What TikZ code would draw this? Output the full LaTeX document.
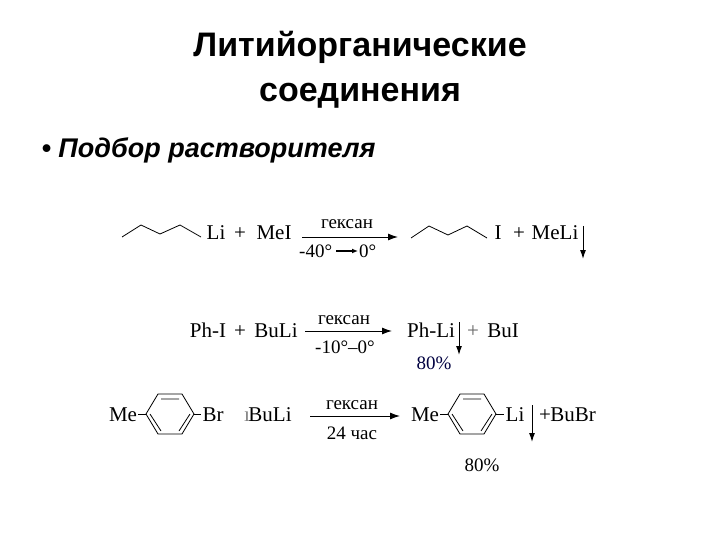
\documentclass[tikz,border=0pt]{standalone}
\usepackage{fontspec}
\setmainfont{Liberation Serif}
\newfontfamily\hd{Liberation Sans}
\usetikzlibrary{arrows.meta}
\begin{document}
\begin{tikzpicture}[x=1pt,y=-1pt,
  ttl/.style={font=\hd\bfseries\fontsize{34}{40}\selectfont},
  ch/.style={font=\fontsize{21}{24}\selectfont,inner sep=0pt,anchor=base},
  sm/.style={font=\fontsize{19}{22}\selectfont,inner sep=0pt,anchor=base},
  bond/.style={line width=0.8pt},
  rx/.style={line width=1pt,-{Latex[length=10pt,width=7pt]}},
  dn/.style={line width=1pt,-{Latex[length=9pt,width=6pt]}}]
\useasboundingbox (0,0) rectangle (720,540);
\node[ttl] (t1) at (360,47) {Литийорганические};
\node[ttl] (t2) at (360,96) {соединения};
\node[font=\hd\bfseries\itshape\fontsize{27}{32}\selectfont,anchor=west] (b) at (38,150) {•\ Подбор растворителя};
% row 1
\draw[bond] (122,237)--(141,225)--(160,234)--(180,225)--(201,237);
\node[ch] (li1) at (216,240) {Li};
\node[ch] (p1) at (240,240) {+};
\node[ch] (mei) at (274,240) {MeI};
\coordinate (a1s) at (302,237); \coordinate (a1e) at (398,237);
\draw[rx] (a1s)--(a1e);
\node[sm] (g1) at (347,229) {гексан};
\node[sm,anchor=base west] (c1a) at (299,258) {-40°};
\coordinate (c1s) at (336,251); \coordinate (c1e) at (358,251);
\draw[line width=1.2pt,-{Latex[length=6pt,width=5pt]}] (c1s)--(c1e);
\node[sm,anchor=base west] (c1b) at (359,258) {0°};
\draw[bond] (411,238)--(429,226)--(448,235)--(467,226)--(487,238);
\node[ch] (i1) at (498,240) {I};
\node[ch] (p1b) at (519,240) {+};
\node[ch] (meli) at (555,240) {MeLi};
\coordinate (d1s) at (583,226); \coordinate (d1e) at (583,259);
\draw[dn] (d1s)--(d1e);
% row 2
\node[ch] (phi) at (208,337) {Ph-I};
\node[ch] (p2) at (240,337) {+};
\node[ch] (buli2) at (276,337) {BuLi};
\coordinate (a2s) at (305,331); \coordinate (a2e) at (392,331);
\draw[rx] (a2s)--(a2e);
\node[sm] (g2) at (344,324) {гексан};
\node[sm] (c2) at (345,353) {-10°–0°};
\node[ch] (phli) at (431,337) {Ph-Li};
\coordinate (d2s) at (459,322); \coordinate (d2e) at (459,355);
\draw[dn] (d2s)--(d2e);
\node[ch,text=black!60] (p2b) at (473,337) {+};
\node[ch] (bui) at (503,337) {BuI};
\node[sm,text=blue!25!black] (y2) at (434,369) {80\%};
% row 3
\node[ch] (me3) at (123,421) {Me};
\draw[bond] (138,414)--(146,414);
\draw[bond] (146,414)--(158,394)--(182,394)--(194,414)--(182,434)--(158,434)--cycle;
\draw[bond] (161,399)--(179,399) (150,414)--(161,431) (190,414)--(179,431);
\draw[bond] (194,414)--(201,414);
\node[ch] (br) at (213,421) {Br};
\node[ch,text=black!50] (p3) at (247,421) {ı};
\node[ch] (buli3) at (270,421) {BuLi};
\coordinate (a3s) at (310,416); \coordinate (a3e) at (400,416);
\draw[rx] (a3s)--(a3e);
\node[sm] (g3) at (352,409) {гексан};
\node[sm] (c3) at (352,439) {24 час};
\node[ch] (me4) at (425,421) {Me};
\draw[bond] (440,414)--(448,414);
\draw[bond] (448,414)--(460,394)--(484,394)--(496,414)--(484,434)--(460,434)--cycle;
\draw[bond] (463,399)--(481,399) (452,414)--(463,431) (492,414)--(481,431);
\draw[bond] (496,414)--(504,414);
\node[ch] (li3) at (515,421) {Li};
\coordinate (d3s) at (532,405); \coordinate (d3e) at (532,442);
\draw[dn] (d3s)--(d3e);
\node[ch] (p3b) at (545,421) {+};
\node[ch] (bubr) at (573,421) {BuBr};
\node[sm] (y3) at (482,471) {80\%};
\end{tikzpicture}
\end{document}
